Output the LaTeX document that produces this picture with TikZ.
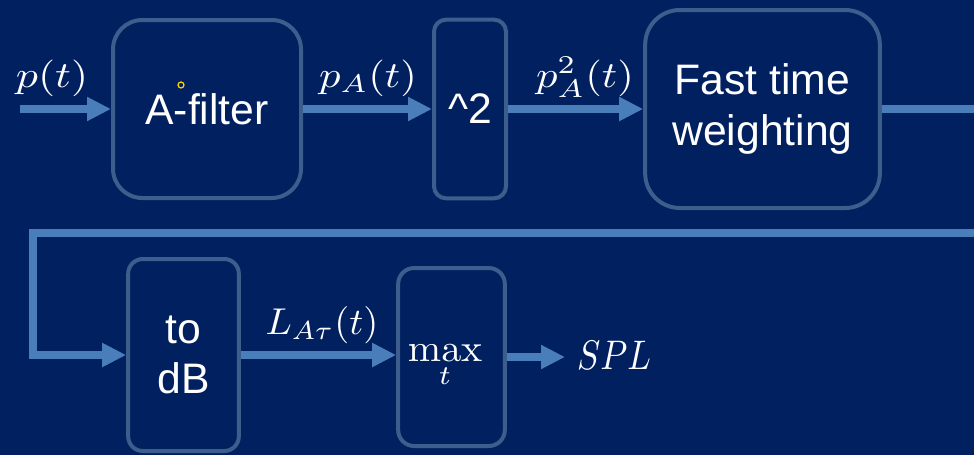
\documentclass[tikz,border=0pt]{standalone}
\usepackage{graphicx}
\usepackage[no-math]{fontspec}
\newfontfamily\arialf{Liberation Sans}
\usetikzlibrary{arrows.meta}
\definecolor{bg}{RGB}{0,32,96}
\definecolor{arr}{RGB}{74,126,187}
\definecolor{bord}{RGB}{61,93,140}
\definecolor{selyel}{RGB}{255,215,0}
\begin{document}
\begin{tikzpicture}[x=0.75pt,y=-0.75pt,
  blk/.style={draw=bord, line width=3pt, text=white, font=\arialf\fontsize{32}{38}\selectfont, align=center, inner sep=0pt},
  flow/.style={draw=arr, line width=6pt, -{Triangle[length=18pt,width=17pt]}},
  lbl/.style={text=white, inner sep=0pt, anchor=base}]
\useasboundingbox (0,0) rectangle (974,455);
\fill[bg] (0,0) rectangle (974,455);
\clip (0,0) rectangle (974,455);
% blocks
\node[blk, minimum width=141pt, minimum height=133.5pt, rounded corners=22pt] (afilt) at (207,109) {A-filter};
\node[blk, minimum width=54pt, minimum height=134pt, rounded corners=9pt] (sq) at (470,109) {\textasciicircum 2};
\node[blk, minimum width=176pt, minimum height=148.5pt, rounded corners=26pt] (ftw) at (762.5,109) {Fast time\\weighting};
\node[blk, minimum width=83pt, minimum height=144pt, rounded corners=11pt] (db) at (183.5,355) {to\\dB};
\node[blk, minimum width=80pt, minimum height=133.5pt, rounded corners=12pt] (mx) at (451.5,357) {};
\node[lbl] (maxt) at (445,361) {\scalebox{3.0}[2.9]{$\displaystyle\max_t$}};
% connectors
\coordinate (in) at (20,109);
\coordinate (rt) at (990,109);
\coordinate (rb) at (990,233);
\coordinate (lt) at (33,233);
\coordinate (out) at (565,357);
\draw[flow] (in) -- (afilt.west);
\draw[flow] (afilt.east) -- (sq.west);
\draw[flow] (sq.east) -- (ftw.west);
\draw[flow] (ftw.east) -- (rt) -- (rb) -- (lt) |- (db.west);
\draw[flow] (db.east) -- (db.east -| mx.west);
\draw[flow] (mx.east) -- (out);
% labels
\node[lbl] (lp) at (52,87) {\scalebox{3.3}[2.75]{$p(t)$}};
\node[lbl] (lpa) at (368,87) {\scalebox{3.2}[2.75]{$p_A(t)$}};
\node[lbl] (lpa2) at (585,87) {\scalebox{3.2}[2.75]{$p_A^2(t)$}};
\node[lbl] (lla) at (322,334) {\scalebox{2.9}[2.8]{$L_{A\tau}(t)$}};
\node[lbl] (lspl) at (614,369) {\scalebox{2.6}[3.1]{$SPL$}};
% selection handle
\node[circle, draw=selyel, line width=0.9pt, minimum size=4.5pt, inner sep=0pt] (dot) at (181,85) {};
\end{tikzpicture}
\end{document}
